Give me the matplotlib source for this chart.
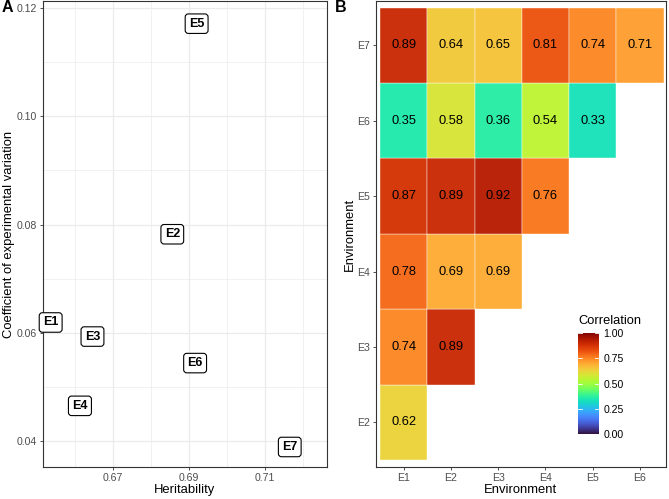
import numpy as np
import matplotlib.pyplot as plt
from matplotlib.colors import Normalize
from matplotlib.ticker import MultipleLocator

plt.rcParams['font.family'] = ['Liberation Sans', 'DejaVu Sans']

# panel A data
envs = ['E1', 'E2', 'E3', 'E4', 'E5', 'E6', 'E7']
herit = [0.6537, 0.6857, 0.6647, 0.6614, 0.6921, 0.6917, 0.7166]
cv = [0.0619, 0.0782, 0.0593, 0.0465, 0.1171, 0.0544, 0.0389]

# panel B data (rows E2..E7, cols E1..E6)
col_labels = ['E1', 'E2', 'E3', 'E4', 'E5', 'E6']
row_labels = ['E2', 'E3', 'E4', 'E5', 'E6', 'E7']
corr_rows = [
    [0.62],
    [0.74, 0.89],
    [0.78, 0.69, 0.69],
    [0.87, 0.89, 0.92, 0.76],
    [0.35, 0.58, 0.36, 0.54, 0.33],
    [0.89, 0.64, 0.65, 0.81, 0.74, 0.71],
]

grey = '#4D4D4D'
fig = plt.figure(figsize=(6.69, 4.99), dpi=100)

# ---- A ----
axA = fig.add_axes([0.0638, 0.0641, 0.425, 0.934])
axA.set_xlim(0.6516, 0.7264)
axA.set_ylim(0.0352, 0.1213)
axA.xaxis.set_minor_locator(MultipleLocator(0.01))
axA.yaxis.set_minor_locator(MultipleLocator(0.01))
axA.set_xticks([0.67, 0.69, 0.71])
axA.set_xticklabels(['0.67', '0.69', '0.71'])
axA.set_yticks([0.04, 0.06, 0.08, 0.10, 0.12])
axA.set_yticklabels(['0.04', '0.06', '0.08', '0.10', '0.12'])
axA.grid(which='major', color='#EBEBEB', lw=0.9)
axA.grid(which='minor', color='#EBEBEB', lw=0.5)
axA.set_axisbelow(True)
axA.tick_params(which='major', labelsize=7.6, labelcolor=grey, color='#333333', length=2.5, width=0.6, pad=1.5)
axA.tick_params(which='minor', length=0)
for s in axA.spines.values():
    s.set_color('#333333')
    s.set_linewidth(0.8)
for e, h, c in zip(envs, herit, cv):
    axA.text(h, c, e, ha='center', va='center', fontsize=9, fontweight='bold',
             bbox=dict(boxstyle='round,pad=0.3,rounding_size=0.25', fc='white', ec='black', lw=0.8))
axA.set_xlabel('Heritability', fontsize=9.4, labelpad=1)
axA.set_ylabel('Coefficient of experimental variation', fontsize=9.4, labelpad=1.5)
fig.text(0.003, 0.984, 'A', fontsize=11.5, fontweight='bold', va='center')

# ---- B ----
cmap = plt.get_cmap('turbo')
norm = Normalize(0, 1)
axB = fig.add_axes([0.5616, 0.0641, 0.4339, 0.934])
for i, row in enumerate(corr_rows):
    for j, v in enumerate(row):
        axB.add_patch(plt.Rectangle((j + 0.5, i + 0.5), 1, 1, fc=cmap(norm(v)), alpha=0.97,
                                    ec='white', lw=0.3))
        axB.text(j + 1, i + 1, f'{v:.2f}', ha='center', va='center', fontsize=9.3)
axB.set_xlim(0.41, 6.55)
axB.set_ylim(0.407, 6.59)
axB.set_xticks(range(1, 7))
axB.set_xticklabels(col_labels)
axB.set_yticks(range(1, 7))
axB.set_yticklabels(row_labels)
axB.tick_params(labelsize=7.6, labelcolor=grey, color='#333333', length=2.5, width=0.6, pad=1.5)
for s in axB.spines.values():
    s.set_color('#333333')
    s.set_linewidth(0.8)
axB.set_xlabel('Environment', fontsize=9.4, labelpad=1)
axB.set_ylabel('Environment', fontsize=9.4, labelpad=1)
fig.text(0.5, 0.984, 'B', fontsize=11.5, fontweight='bold', va='center')

# colorbar
cax = fig.add_axes([578 / 669, 1 - 434.3 / 499, 21 / 669, 101.6 / 499])
grad = np.linspace(0, 1, 256).reshape(-1, 1)
cax.imshow(grad, aspect='auto', cmap=cmap, origin='lower', extent=[0, 1, 0, 1])
cbt = [0, 0.25, 0.5, 0.75, 1.0]
for t in cbt:
    cax.plot([0, 0.2], [t, t], color='white', lw=0.6)
    cax.plot([0.8, 1], [t, t], color='white', lw=0.6)
cax.set_xlim(0, 1)
cax.set_ylim(0, 1)
cax.set_xticks([])
cax.yaxis.tick_right()
cax.set_yticks(cbt)
cax.set_yticklabels(['0.00', '0.25', '0.50', '0.75', '1.00'])
cax.tick_params(length=0, labelsize=7.6, pad=3)
for s in cax.spines.values():
    s.set_visible(False)
fig.text(578 / 669, 1 - 320.7 / 499, 'Correlation', fontsize=9.3, va='center')

fig.savefig('out.png', dpi=100)
